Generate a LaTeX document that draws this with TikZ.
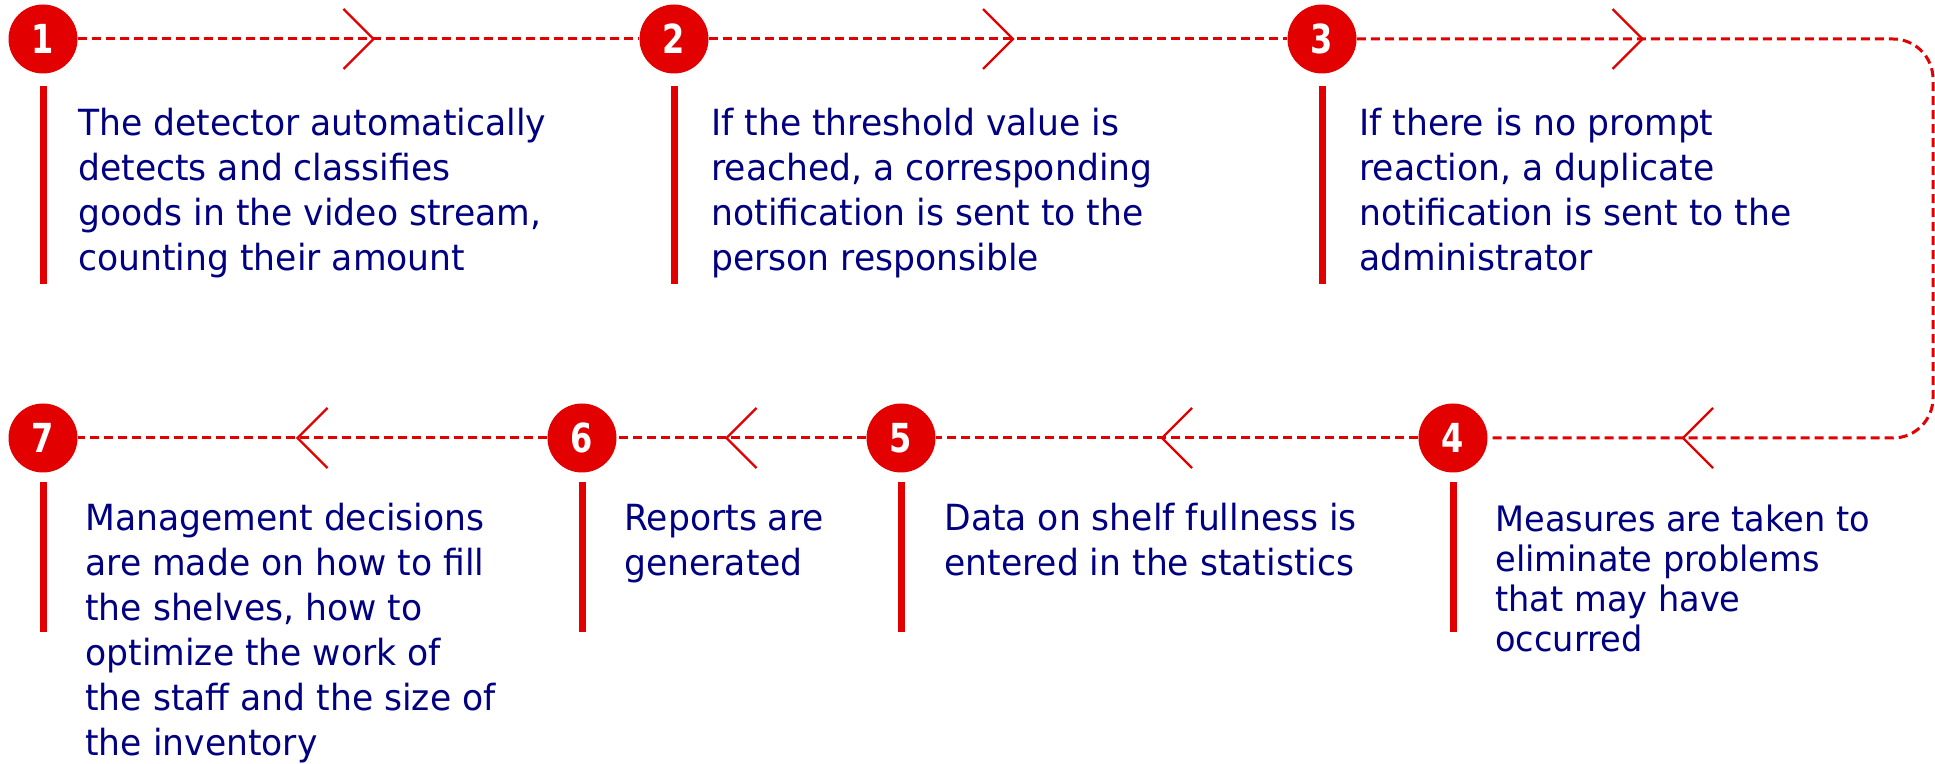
\documentclass[tikz,border=0pt]{standalone}
\usepackage{fontspec}
\setmainfont{DejaVu Sans}[FakeStretch=0.96]
\newfontfamily\numfont{DejaVu Sans}[FakeStretch=0.8]
\usetikzlibrary{calc}
\definecolor{rouge}{RGB}{226,0,0}
\definecolor{marine}{RGB}{0,0,128}

\begin{document}
\begin{tikzpicture}[x=0.5pt, y=-0.5pt,
    num/.style={circle, fill=rouge, minimum size=34.5pt, inner sep=0pt, text=white,
      font=\numfont\bfseries\fontsize{20}{20}\selectfont},
    flow/.style={draw=rouge, line width=1.5pt, dash pattern=on 4.5pt off 2.5pt},
    chev/.style={draw=rouge, line width=1.2pt},
    bar/.style={draw=rouge, line width=3.5pt},
    txt/.style={anchor=north west, align=left, inner sep=0pt, text=marine,
      font=\fontsize{18}{22.5}\selectfont}]
  \useasboundingbox (0,0) rectangle (1935,764);

  % numbered steps
  \node[num] (c1) at (43,39) {1};
  \node[num] (c2) at (674,39) {2};
  \node[num] (c3) at (1322,39) {3};
  \node[num] (c4) at (1453,438) {4};
  \node[num] (c5) at (901,438) {5};
  \node[num] (c6) at (582,438) {6};
  \node[num] (c7) at (43,438) {7};
  \coordinate (tr) at (1933,39);
  \coordinate (br) at (1933,438);

  % dashed flow
  \draw[flow] (c1) -- (c2);
  \draw[flow] (c2) -- (c3);
  \draw[flow, rounded corners=20pt] (c3) -- (tr) -- (br) -- (c4);
  \draw[flow] (c4) -- (c5);
  \draw[flow] (c5) -- (c6);
  \draw[flow] (c6) -- (c7);

  % open chevrons
  \draw[chev] ($(c1)!0.5!(c2)$) ++(-15,-30) -- ++(30,30) -- ++(-30,30);
  \draw[chev] ($(c2)!0.5!(c3)$) ++(-15,-30) -- ++(30,30) -- ++(-30,30);
  \draw[chev] ($(c3)!0.5!(tr)$) ++(-15,-30) -- ++(30,30) -- ++(-30,30);
  \draw[chev] ($(c4)!0.5!(br)$) ++(20,-30) -- ++(-30,30) -- ++(30,30);
  \draw[chev] ($(c5)!0.5!(c4)$) ++(15,-30) -- ++(-30,30) -- ++(30,30);
  \draw[chev] ($(c6)!0.5!(c5)$) ++(15,-30) -- ++(-30,30) -- ++(30,30);
  \draw[chev] ($(c7)!0.5!(c6)$) ++(15,-30) -- ++(-30,30) -- ++(30,30);

  % red bars
  \foreach \c in {c1,c2,c3}
    \draw[bar] (\c) ++(0,47) -- ++(0,198);
  \foreach \c in {c4,c5,c6,c7}
    \draw[bar] (\c) ++(0,44) -- ++(0,150);

  % texts
  \node[txt] (t1) at (78,108) {The detector automatically\\detects and classifies\\goods in the video stream,\\counting their amount};
  \node[txt] (t2) at (711,108) {If the threshold value is\\reached, a corresponding\\notification is sent to the\\person responsible};
  \node[txt] (t3) at (1359,108) {If there is no prompt\\reaction, a duplicate\\notification is sent to the\\administrator};
  \node[txt, font=\fontsize{17.5}{20}\selectfont] (t4) at (1495,505) {Measures are taken to\\eliminate problems\\that may have\\occurred};
  \node[txt] (t5) at (944,503) {Data on shelf fullness is\\entered in the statistics};
  \node[txt] (t6) at (624,504) {Reports are\\generated};
  \node[txt] (t7) at (85,503) {Management decisions\\are made on how to fill\\the shelves, how to\\optimize the work of\\the staff and the size of\\the inventory};
\end{tikzpicture}
\end{document}
